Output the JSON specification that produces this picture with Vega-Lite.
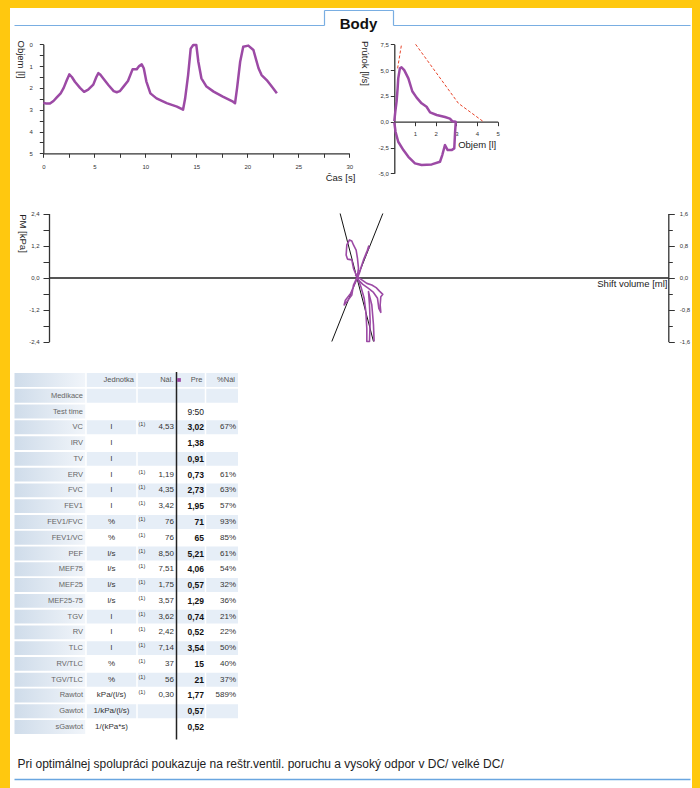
{
"$schema": "https://vega.github.io/schema/vega-lite/v6.json",
"width": 682, "height": 780,
"autosize": "none",
"padding": {"left": 10, "top": 8, "right": 8, "bottom": 0},
"background": "#FFC80F",
"title": {"text": "Body", "font": "Liberation Sans", "fontSize": 15, "fontWeight": "bold", "color": "#111", "anchor": "middle", "frame": "group", "offset": -16, "baseline": "middle", "dx": 7.5, "dy": 16},
"config": {
  "view": {"fill": "white", "stroke": null},
  "font": "Liberation Sans",
  "axis": {"labelFont": "Liberation Sans", "labelFontSize": 6, "labelColor": "#333", "domainColor": "#333", "tickColor": "#333", "domainWidth": 1.3, "tickWidth": 1, "titleFont": "Liberation Sans", "titleFontSize": 9.5, "titleFontWeight": "normal", "titleColor": "#222", "grid": false, "labelFlush": false, "labelOverlap": false},
  "text": {"font": "Liberation Sans", "baseline": "middle"}
},
"datasets": {
  "frame": [{"a": 0}, {"a": 1}],
  "vt": [{"t":0,"v":2.68},{"t":0.3,"v":2.72},{"t":0.65,"v":2.72},{"t":1.0,"v":2.6},{"t":1.3,"v":2.45},{"t":1.7,"v":2.25},{"t":2.0,"v":2.0},{"t":2.3,"v":1.65},{"t":2.55,"v":1.38},{"t":2.8,"v":1.5},{"t":3.1,"v":1.72},{"t":3.6,"v":2.0},{"t":4.0,"v":2.18},{"t":4.4,"v":2.08},{"t":4.9,"v":1.85},{"t":5.2,"v":1.5},{"t":5.4,"v":1.32},{"t":5.6,"v":1.4},{"t":5.9,"v":1.58},{"t":6.4,"v":1.88},{"t":6.9,"v":2.15},{"t":7.2,"v":2.2},{"t":7.5,"v":2.15},{"t":7.9,"v":1.92},{"t":8.3,"v":1.68},{"t":8.75,"v":1.15},{"t":9.15,"v":1.15},{"t":9.4,"v":1.0},{"t":9.65,"v":0.92},{"t":9.85,"v":1.1},{"t":10.1,"v":1.7},{"t":10.5,"v":2.25},{"t":11.1,"v":2.48},{"t":12.1,"v":2.7},{"t":13.1,"v":2.86},{"t":13.7,"v":3.0},{"t":13.9,"v":2.5},{"t":14.2,"v":1.4},{"t":14.45,"v":0.2},{"t":14.7,"v":0.03},{"t":15.0,"v":0.03},{"t":15.2,"v":0.8},{"t":15.5,"v":1.56},{"t":16.0,"v":1.94},{"t":16.7,"v":2.17},{"t":17.6,"v":2.4},{"t":18.6,"v":2.63},{"t":18.8,"v":2.7},{"t":19.0,"v":2.0},{"t":19.3,"v":0.8},{"t":19.6,"v":0.11},{"t":20.1,"v":0.06},{"t":20.6,"v":0.26},{"t":21.1,"v":1.1},{"t":21.4,"v":1.41},{"t":21.9,"v":1.64},{"t":22.4,"v":1.94},{"t":22.9,"v":2.25}],
  "fvp": [{"s":"a","vol":0.16,"flow":5.17},{"s":"a","vol":0.35,"flow":7.5},{"s":"b","vol":1.03,"flow":7.5},{"s":"b","vol":3.1,"flow":1.78},{"s":"b","vol":4.31,"flow":0}],
  "fv": [{"vol":0,"flow":0.06},{"vol":0.05,"flow":1.0},{"vol":0.11,"flow":1.94},{"vol":0.16,"flow":3.2},{"vol":0.19,"flow":4.2},{"vol":0.27,"flow":5.17},{"vol":0.35,"flow":5.27},{"vol":0.48,"flow":5.0},{"vol":0.68,"flow":4.2},{"vol":0.87,"flow":2.95},{"vol":1.08,"flow":2.33},{"vol":1.32,"flow":1.78},{"vol":1.56,"flow":1.45},{"vol":1.73,"flow":0.9},{"vol":2.05,"flow":0.65},{"vol":2.45,"flow":0.45},{"vol":2.69,"flow":0.3},{"vol":2.8,"flow":0.05},{"vol":2.97,"flow":0.0},{"vol":2.97,"flow":-0.06},{"vol":2.94,"flow":-0.97},{"vol":2.9,"flow":-2.59},{"vol":2.77,"flow":-2.75},{"vol":2.58,"flow":-2.75},{"vol":2.45,"flow":-2.26},{"vol":2.32,"flow":-3.23},{"vol":2.21,"flow":-3.88},{"vol":1.81,"flow":-4.14},{"vol":1.32,"flow":-4.2},{"vol":1.0,"flow":-4.04},{"vol":0.68,"flow":-3.4},{"vol":0.44,"flow":-2.75},{"vol":0.19,"flow":-1.94},{"vol":0.06,"flow":-0.97},{"vol":0,"flow":-0.06}],
  "plb": [{"s":"A","x":-5.98,"y":2.4},{"s":"A","x":4.79,"y":-2.4},{"s":"B","x":7.81,"y":2.4},{"s":"B","x":-8.67,"y":-2.4}],
  "plp": [
    {"s":"1","x":-0.59,"y":0.03},{"s":"1","x":-1.67,"y":0.34},{"s":"1","x":-2.21,"y":0.66},{"s":"1","x":-3.61,"y":0.69},{"s":"1","x":-4.04,"y":0.84},{"s":"1","x":-3.82,"y":1.22},{"s":"1","x":-2.96,"y":1.41},{"s":"1","x":-2.21,"y":1.37},{"s":"1","x":-1.67,"y":1.22},{"s":"1","x":-0.81,"y":1.03},{"s":"1","x":-0.38,"y":0.72},{"s":"1","x":-0.05,"y":0.34},{"s":"1","x":-0.38,"y":0.09},
    {"s":"2","x":3.5,"y":1.16},{"s":"2","x":2.64,"y":0.97},{"s":"2","x":1.56,"y":0.66},{"s":"2","x":0.48,"y":0.28},{"s":"2","x":-0.59,"y":-0.01},{"s":"2","x":-1.67,"y":-0.28},{"s":"2","x":-2.21,"y":-0.66},{"s":"2","x":-3.82,"y":-0.91},{"s":"2","x":-4.68,"y":-1.03},{"s":"2","x":-4.3,"y":-0.85},{"s":"2","x":-2.6,"y":-0.6},{"s":"2","x":-1.3,"y":-0.25},{"s":"2","x":0.2,"y":0.15},{"s":"2","x":1.4,"y":0.6},{"s":"2","x":2.5,"y":0.9},{"s":"2","x":3.3,"y":1.2},
    {"s":"3","x":-1.13,"y":0.09},{"s":"3","x":1.02,"y":-0.09},{"s":"3","x":2.64,"y":-0.22},{"s":"3","x":4.25,"y":-0.28},{"s":"3","x":5.65,"y":-0.38},{"s":"3","x":6.73,"y":-0.51},{"s":"3","x":7.81,"y":-0.63},{"s":"3","x":7.16,"y":-0.72},{"s":"3","x":6.95,"y":-1.03},{"s":"3","x":7.16,"y":-1.31},{"s":"3","x":6.52,"y":-1.16},{"s":"3","x":6.09,"y":-0.78},{"s":"3","x":4.79,"y":-0.56},{"s":"3","x":3.18,"y":-0.41},{"s":"3","x":1.35,"y":-0.26},{"s":"3","x":-0.38,"y":-0.06},
    {"s":"4","x":-0.38,"y":-0.01},{"s":"4","x":0.7,"y":-0.34},{"s":"4","x":1.78,"y":-0.78},{"s":"4","x":2.32,"y":-1.28},{"s":"4","x":2.64,"y":-1.91},{"s":"4","x":2.64,"y":-2.4},{"s":"4","x":3.5,"y":-2.4},{"s":"4","x":3.72,"y":-1.66},{"s":"4","x":3.5,"y":-1.03},{"s":"4","x":3.18,"y":-0.53},{"s":"4","x":4.25,"y":-1.03},{"s":"4","x":4.79,"y":-1.78},{"s":"4","x":5.0,"y":-2.4}
  ],
  "tbl": [
    {"k":"_hdr","n":""},
    {"k":"Medikace","n":"Medikace"},
    {"k":"Test time","n":"Test time","tt":"9:50"},
    {"k":"VC","n":"VC","u":"l","f":"(1)","r":"4,53","p":"3,02","q":"67%"},
    {"k":"IRV","n":"IRV","u":"l","p":"1,38"},
    {"k":"TV","n":"TV","u":"l","p":"0,91"},
    {"k":"ERV","n":"ERV","u":"l","f":"(1)","r":"1,19","p":"0,73","q":"61%"},
    {"k":"FVC","n":"FVC","u":"l","f":"(1)","r":"4,35","p":"2,73","q":"63%"},
    {"k":"FEV1","n":"FEV1","u":"l","f":"(1)","r":"3,42","p":"1,95","q":"57%"},
    {"k":"FEV1/FVC","n":"FEV1/FVC","u":"%","f":"(1)","r":"76","p":"71","q":"93%"},
    {"k":"FEV1/VC","n":"FEV1/VC","u":"%","f":"(1)","r":"76","p":"65","q":"85%"},
    {"k":"PEF","n":"PEF","u":"l/s","f":"(1)","r":"8,50","p":"5,21","q":"61%"},
    {"k":"MEF75","n":"MEF75","u":"l/s","f":"(1)","r":"7,51","p":"4,06","q":"54%"},
    {"k":"MEF25","n":"MEF25","u":"l/s","f":"(1)","r":"1,75","p":"0,57","q":"32%"},
    {"k":"MEF25-75","n":"MEF25-75","u":"l/s","f":"(1)","r":"3,57","p":"1,29","q":"36%"},
    {"k":"TGV","n":"TGV","u":"l","f":"(1)","r":"3,62","p":"0,74","q":"21%"},
    {"k":"RV","n":"RV","u":"l","f":"(1)","r":"2,42","p":"0,52","q":"22%"},
    {"k":"TLC","n":"TLC","u":"l","f":"(1)","r":"7,14","p":"3,54","q":"50%"},
    {"k":"RV/TLC","n":"RV/TLC","u":"%","f":"(1)","r":"37","p":"15","q":"40%"},
    {"k":"TGV/TLC","n":"TGV/TLC","u":"%","f":"(1)","r":"56","p":"21","q":"37%"},
    {"k":"Rawtot","n":"Rawtot","u":"kPa/(l/s)","f":"(1)","r":"0,30","p":"1,77","q":"589%"},
    {"k":"Gawtot","n":"Gawtot","u":"1/kPa/(l/s)","p":"0,57"},
    {"k":"sGawtot","n":"sGawtot","u":"1/(kPa*s)","p":"0,52"}
  ]
},
"layer": [
  {"data": {"name": "frame"}, "mark": {"type": "point", "opacity": 0},
   "encoding": {
     "x": {"field": "a", "type": "quantitative", "scale": {"domain": [0, 1], "range": [314, 383], "nice": false, "zero": false}, "axis": {"orient": "top", "offset": -2, "domainColor": "#79aee2", "domainWidth": 1.2, "ticks": false, "labels": false, "title": null}},
     "y": {"field": "a", "type": "quantitative", "scale": {"domain": [0, 1], "range": [2, 17], "nice": false, "zero": false}, "axis": {"orient": "left", "offset": -314, "domainColor": "#79aee2", "domainWidth": 1.2, "ticks": false, "labels": false, "title": null}}
   }},
  {"data": {"name": "frame"}, "mark": {"type": "point", "opacity": 0},
   "encoding": {
     "x": {"field": "a", "type": "quantitative", "scale": {"domain": [0, 1], "range": [4, 314], "nice": false, "zero": false}, "axis": {"orient": "top", "offset": -17, "domainColor": "#79aee2", "domainWidth": 1.2, "ticks": false, "labels": false, "title": null}},
     "y": {"field": "a", "type": "quantitative", "scale": {"domain": [0, 1], "range": [2, 17], "nice": false, "zero": false}, "axis": {"orient": "right", "offset": -299, "domainColor": "#79aee2", "domainWidth": 1.2, "ticks": false, "labels": false, "title": null}}
   }},
  {"data": {"name": "frame"}, "mark": {"type": "point", "opacity": 0},
   "encoding": {
     "x": {"field": "a", "type": "quantitative", "scale": {"domain": [0, 1], "range": [383, 680], "nice": false, "zero": false}, "axis": {"orient": "top", "offset": -17, "domainColor": "#79aee2", "domainWidth": 1.2, "ticks": false, "labels": false, "title": null}}
   }},
  {"data": {"name": "frame"}, "mark": {"type": "point", "opacity": 0},
   "encoding": {
     "x": {"field": "a", "type": "quantitative", "scale": {"domain": [0, 1], "range": [4, 680], "nice": false, "zero": false}, "axis": {"orient": "bottom", "offset": -9, "domainColor": "#6aa6e0", "domainWidth": 1.5, "ticks": false, "labels": false, "title": "Pri optimálnej spolupráci poukazuje na reštr.ventil. poruchu a vysoký odpor v DC/ velké DC/", "titleX": 7, "titleY": -16, "titleAlign": "left", "titleBaseline": "middle", "titleFontSize": 12, "titleColor": "#222"}}
   }},
  {"data": {"name": "vt"}, "mark": {"type": "line", "color": "#9c4aa5", "strokeWidth": 2.5, "strokeJoin": "round"},
   "encoding": {
     "x": {"field": "t", "type": "quantitative", "scale": {"domain": [0, 30], "range": [33.3, 339.3], "nice": false, "zero": false},
           "axis": {"orient": "bottom", "offset": -634.7, "values": [0,2.5,5,7.5,10,12.5,15,17.5,20,22.5,25,27.5,30], "labelExpr": "datum.value % 5 === 0 ? format(datum.value, 'd') : ''", "tickSize": 4, "labelPadding": 6, "title": "Čas [s]", "titleX": 330, "titleY": 24, "titleAlign": "center", "titleBaseline": "middle"}},
     "y": {"field": "v", "type": "quantitative", "scale": {"domain": [0, 5], "range": [36.3, 145.3], "nice": false, "zero": false},
           "axis": {"orient": "left", "offset": -33.3, "values": [0,0.5,1,1.5,2,2.5,3,3.5,4,4.5,5], "labelExpr": "datum.value % 1 === 0 ? format(datum.value, 'd') : ''", "tickSize": 4, "labelPadding": 7, "title": "Objem [l]", "titleAngle": 90, "titleX": -23, "titleY": 51, "titleAlign": "center", "titleBaseline": "middle"}}
   }},
  {"layer": [
    {"data": {"name": "fvp"}, "mark": {"type": "line", "color": "#e8442a", "strokeWidth": 1, "strokeDash": [3, 2]},
     "encoding": {
       "x": {"field": "vol", "type": "quantitative", "scale": {"domain": [0, 5], "range": [384.3, 487.7], "nice": false, "zero": false},
             "axis": {"orient": "bottom", "offset": -666.3, "values": [1,2,3,4,5], "format": "d", "tickSize": 4, "labelPadding": 5, "title": "Objem [l]", "titleX": 466.7, "titleY": 22.6, "titleAlign": "center", "titleBaseline": "middle"}},
       "y": {"field": "flow", "type": "quantitative", "scale": {"domain": [-5, 7.5], "range": [165.3, 36.3], "nice": false, "zero": false},
             "axis": {"orient": "left", "offset": -384.3, "values": [-5,-2.5,0,2.5,5,7.5], "labelExpr": "replace(replace(format(datum.value, '.1f'), '.', ','), '−', '-')", "tickSize": 4, "labelPadding": 2, "title": "Prútok [l/s]", "titleAngle": 90, "titleX": -30, "titleY": 55, "titleAlign": "center", "titleBaseline": "middle"}},
       "detail": {"field": "s"}
     }},
    {"data": {"name": "fv"}, "mark": {"type": "line", "color": "#9c4aa5", "strokeWidth": 2.5, "strokeJoin": "round"},
     "encoding": {
       "x": {"field": "vol", "type": "quantitative"},
       "y": {"field": "flow", "type": "quantitative"},
       "order": {"value": null}
     }}
  ]},
  {"layer": [
    {"layer": [
      {"data": {"name": "plb"}, "mark": {"type": "line", "color": "#111", "strokeWidth": 1},
       "encoding": {
         "x": {"field": "x", "type": "quantitative", "scale": {"domain": [-100, 100], "range": [39, 658.3], "nice": false, "zero": false},
               "axis": {"orient": "bottom", "offset": -510.5, "domainColor": "#555", "domainWidth": 2, "ticks": false, "labels": false, "title": "Shift volume [ml]", "titleX": 657, "titleY": 6, "titleAlign": "right", "titleBaseline": "middle", "titleFontSize": 9.5}},
         "y": {"field": "y", "type": "quantitative", "scale": {"domain": [-2.4, 2.4], "range": [333.5, 205.5], "nice": false, "zero": false},
               "axis": {"orient": "left", "offset": -39, "values": [-2.4,-1.8,-1.2,-0.6,0,0.6,1.2,1.8,2.4], "labelExpr": "abs(datum.value/1.2 - round(datum.value/1.2)) < 0.01 ? replace(replace(format(datum.value, '.1f'), '.', ','), '−', '-') : ''", "tickSize": 6, "labelPadding": 4, "title": "PM [kPa]", "titleAngle": 90, "titleX": -27, "titleY": 225, "titleAlign": "center", "titleBaseline": "middle"}},
         "detail": {"field": "s"}
       }},
      {"data": {"name": "plp"}, "mark": {"type": "line", "color": "#9c4aa5", "strokeWidth": 1.6, "strokeJoin": "round"},
       "encoding": {
         "x": {"field": "x", "type": "quantitative"},
         "y": {"field": "y", "type": "quantitative"},
         "detail": {"field": "s"},
         "order": {"value": null}
       }}
    ]},
    {"data": {"name": "frame"}, "mark": {"type": "point", "opacity": 0},
     "encoding": {
       "y": {"field": "a", "type": "quantitative", "scale": {"domain": [-1.6, 1.6], "range": [333.5, 205.5], "nice": false, "zero": false},
             "axis": {"orient": "right", "offset": -23.7, "values": [-1.6,-1.2,-0.8,-0.4,0,0.4,0.8,1.2,1.6], "labelExpr": "abs(datum.value/0.8 - round(datum.value/0.8)) < 0.01 ? replace(replace(format(datum.value, '.1f'), '.', ','), '−', '-') : ''", "tickSize": {"condition": {"test": "abs(datum.value/0.8 - round(datum.value/0.8)) < 0.01", "value": 6}, "value": 4}, "labelPadding": 5, "title": null}}
     }}
  ], "resolve": {"scale": {"y": "independent"}}},
  {"layer": [
    {"data": {"name": "tbl"}, "mark": {"type": "rect", "fill": {"gradient": "linear", "x1": 0, "y1": 0, "x2": 1, "y2": 0, "stops": [{"offset": 0, "color": "#cfdcea"}, {"offset": 1, "color": "#f1f5fa"}]}},
     "encoding": {
       "x": {"datum": 0, "type": "quantitative", "scale": {"domain": [0, 1, 2, 3, 4, 5], "range": [4.5, 76, 127, 166.5, 195.5, 228], "nice": false, "zero": false}, "axis": null},
       "x2": {"datum": 1},
       "y": {"field": "k", "type": "nominal", "scale": {"type": "band", "domain": ["_hdr","Medikace","Test time","VC","IRV","TV","ERV","FVC","FEV1","FEV1/FVC","FEV1/VC","PEF","MEF75","MEF25","MEF25-75","TGV","RV","TLC","RV/TLC","TGV/TLC","Rawtot","Gawtot","sGawtot"], "range": [364.1, 726.9], "paddingInner": 0.12, "paddingOuter": 0.06}, "axis": null}
     }},
    {"data": {"name": "tbl"}, "transform": [{"filter": {"field": "k", "oneOf": ["_hdr","Medikace","VC","TV","FVC","FEV1/FVC","PEF","MEF25","TGV","TLC","TGV/TLC","Gawtot"]}}],
     "mark": {"type": "rect", "fill": "#e6eef7"},
     "encoding": {"x": {"datum": 1, "type": "quantitative"}, "x2": {"datum": 5}, "y": {"field": "k", "type": "nominal"}}},
    {"data": {"values": [{}]}, "mark": {"type": "rule", "color": "white", "strokeWidth": 1.5, "yOffset": -8, "y2Offset": 8},
     "encoding": {"x": {"datum": 1, "type": "quantitative"}, "y": {"datum": "_hdr", "type": "nominal"}, "y2": {"datum": "sGawtot"}}},
    {"data": {"values": [{}]}, "mark": {"type": "rule", "color": "white", "strokeWidth": 1.5, "yOffset": -8, "y2Offset": 8},
     "encoding": {"x": {"datum": 2, "type": "quantitative"}, "y": {"datum": "_hdr", "type": "nominal"}, "y2": {"datum": "sGawtot"}}},
    {"data": {"values": [{}]}, "mark": {"type": "rule", "color": "white", "strokeWidth": 1.5, "yOffset": -8, "y2Offset": 8},
     "encoding": {"x": {"datum": 4, "type": "quantitative"}, "y": {"datum": "_hdr", "type": "nominal"}, "y2": {"datum": "sGawtot"}}},
    {"data": {"values": [{}]}, "mark": {"type": "rule", "color": "#222", "strokeWidth": 1.5, "yOffset": -8, "y2Offset": 12.5},
     "encoding": {"x": {"datum": 3, "type": "quantitative"}, "y": {"datum": "_hdr", "type": "nominal"}, "y2": {"datum": "sGawtot"}}},
    {"data": {"values": [{}]}, "mark": {"type": "square", "color": "#9c4aa5", "opacity": 1, "size": 14, "xOffset": 2.5},
     "encoding": {"x": {"datum": 3, "type": "quantitative"}, "y": {"datum": "_hdr", "type": "nominal"}}},
    {"data": {"values": [{}]}, "mark": {"type": "text", "align": "right", "dx": -3, "fontSize": 7.5, "color": "#555"},
     "encoding": {"x": {"datum": 2, "type": "quantitative"}, "y": {"datum": "_hdr", "type": "nominal"}, "text": {"value": "Jednotka"}}},
    {"data": {"values": [{}]}, "mark": {"type": "text", "align": "right", "dx": -3, "fontSize": 7.5, "color": "#555"},
     "encoding": {"x": {"datum": 3, "type": "quantitative"}, "y": {"datum": "_hdr", "type": "nominal"}, "text": {"value": "Nál."}}},
    {"data": {"values": [{}]}, "mark": {"type": "text", "align": "right", "dx": -3, "fontSize": 7.5, "color": "#555"},
     "encoding": {"x": {"datum": 4, "type": "quantitative"}, "y": {"datum": "_hdr", "type": "nominal"}, "text": {"value": "Pre"}}},
    {"data": {"values": [{}]}, "mark": {"type": "text", "align": "right", "dx": -3, "fontSize": 7.5, "color": "#555"},
     "encoding": {"x": {"datum": 5, "type": "quantitative"}, "y": {"datum": "_hdr", "type": "nominal"}, "text": {"value": "%Nál"}}},
    {"data": {"name": "tbl"}, "transform": [{"filter": "datum.n"}], "mark": {"type": "text", "align": "right", "dx": -3, "fontSize": 7.5, "color": "#666"},
     "encoding": {"x": {"datum": 1, "type": "quantitative"}, "y": {"field": "k", "type": "nominal"}, "text": {"field": "n"}}},
    {"data": {"name": "tbl"}, "transform": [{"filter": "datum.u"}], "mark": {"type": "text", "align": "center", "fontSize": 8, "color": "#333"},
     "encoding": {"x": {"datum": 1.5, "type": "quantitative"}, "y": {"field": "k", "type": "nominal"}, "text": {"field": "u"}}},
    {"data": {"name": "tbl"}, "transform": [{"filter": "datum.f"}], "mark": {"type": "text", "align": "left", "dx": 1.5, "dy": -3, "fontSize": 5.5, "color": "#333"},
     "encoding": {"x": {"datum": 2, "type": "quantitative"}, "y": {"field": "k", "type": "nominal"}, "text": {"field": "f"}}},
    {"data": {"name": "tbl"}, "transform": [{"filter": "datum.r"}], "mark": {"type": "text", "align": "right", "dx": -2.5, "fontSize": 8, "color": "#333"},
     "encoding": {"x": {"datum": 3, "type": "quantitative"}, "y": {"field": "k", "type": "nominal"}, "text": {"field": "r"}}},
    {"data": {"name": "tbl"}, "transform": [{"filter": "datum.p"}], "mark": {"type": "text", "align": "right", "dx": -1.5, "fontSize": 8.5, "fontWeight": "bold", "color": "#111"},
     "encoding": {"x": {"datum": 4, "type": "quantitative"}, "y": {"field": "k", "type": "nominal"}, "text": {"field": "p"}}},
    {"data": {"name": "tbl"}, "transform": [{"filter": "datum.tt"}], "mark": {"type": "text", "align": "right", "dx": -1.5, "fontSize": 8.5, "color": "#222"},
     "encoding": {"x": {"datum": 4, "type": "quantitative"}, "y": {"field": "k", "type": "nominal"}, "text": {"field": "tt"}}},
    {"data": {"name": "tbl"}, "transform": [{"filter": "datum.q"}], "mark": {"type": "text", "align": "right", "dx": -2, "fontSize": 8, "color": "#333"},
     "encoding": {"x": {"datum": 5, "type": "quantitative"}, "y": {"field": "k", "type": "nominal"}, "text": {"field": "q"}}}
  ]}
],
"resolve": {"scale": {"x": "independent", "y": "independent"}}
}
